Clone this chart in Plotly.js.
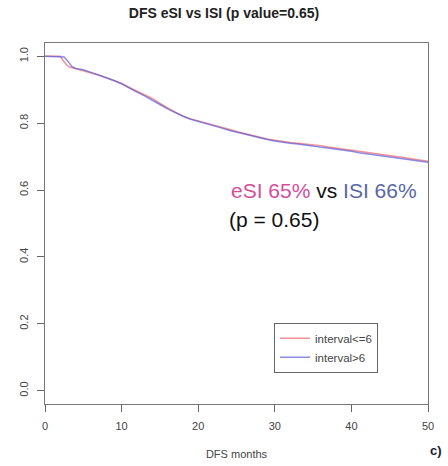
<!DOCTYPE html>
<html>
<head>
<meta charset="utf-8">
<script src="https://cdn.plot.ly/plotly-3.0.1.min.js"></script>
<style>html,body{margin:0;padding:0;background:#fff;}#chart{width:448px;height:466px;}</style>
</head>
<body>
<div id="chart"></div>
<script>
// Months and survival estimates
const monthsLow = [0, 2, 2.3, 2.8, 3.2, 4, 5, 6, 7, 8, 9, 10, 11, 12, 13, 14, 15, 16, 17, 18, 19, 20, 21, 22, 23, 24, 25, 26, 27, 28, 29, 30, 31, 32, 33, 34, 35, 36, 37, 38, 39, 40, 41, 42, 43, 44, 45, 46, 47, 48, 49, 50];
const survLow = [1.0, 1.0, 0.99, 0.975, 0.968, 0.963, 0.958, 0.951, 0.944, 0.936, 0.928, 0.919, 0.907, 0.896, 0.886, 0.874, 0.859, 0.845, 0.833, 0.822, 0.813, 0.807, 0.801, 0.796, 0.790, 0.782, 0.775, 0.769, 0.763, 0.758, 0.753, 0.749, 0.745, 0.742, 0.740, 0.738, 0.736, 0.733, 0.729, 0.726, 0.723, 0.719, 0.715, 0.712, 0.709, 0.706, 0.703, 0.700, 0.697, 0.693, 0.690, 0.686];

const monthsHigh = [0, 2, 2.5, 3, 3.5, 4, 5, 6, 7, 8, 9, 10, 11, 12, 13, 14, 15, 16, 17, 18, 19, 20, 21, 22, 23, 24, 25, 26, 27, 28, 29, 30, 31, 32, 33, 34, 35, 36, 37, 38, 39, 40, 41, 42, 43, 44, 45, 46, 47, 48, 49, 50];
const survHigh = [1.0, 1.0, 0.998, 0.985, 0.970, 0.964, 0.960, 0.952, 0.944, 0.937, 0.928, 0.918, 0.905, 0.893, 0.882, 0.870, 0.856, 0.843, 0.831, 0.821, 0.812, 0.806, 0.800, 0.793, 0.786, 0.779, 0.773, 0.768, 0.762, 0.756, 0.751, 0.747, 0.743, 0.740, 0.738, 0.735, 0.733, 0.729, 0.725, 0.722, 0.719, 0.716, 0.712, 0.709, 0.706, 0.703, 0.700, 0.696, 0.692, 0.689, 0.686, 0.683];

const seriesNames = ['interval<=6', 'interval>6'];
const xTicks = [0, 10, 20, 30, 40, 50];
const yTicks = [0.0, 0.2, 0.4, 0.6, 0.8, 1.0];
const yTickLabels = ['0.0', '0.2', '0.4', '0.6', '0.8', '1.0'];

const traces = [
  {x: monthsLow, y: survLow, name: seriesNames[0], mode: 'lines', type: 'scatter',
   line: {color: 'rgba(238,100,100,0.7)', width: 1.5}},
  {x: monthsHigh, y: survHigh, name: seriesNames[1], mode: 'lines', type: 'scatter',
   line: {color: 'rgba(90,90,225,0.7)', width: 1.5}}
];

const layout = {
  width: 448, height: 466,
  margin: {l: 45, r: 20, t: 43, b: 62},
  paper_bgcolor: '#fff', plot_bgcolor: '#fff',
  font: {family: 'Liberation Sans, Arial, sans-serif', color: '#333'},
  title: {text: '<b>DFS eSI vs ISI (p value=0.65)</b>', x: 0.5, xanchor: 'center', y: 0.972, yanchor: 'middle',
          font: {size: 14, color: '#222', family: 'Liberation Sans, Arial, sans-serif'}},
  xaxis: {range: [0, 50], tickvals: xTicks, ticks: 'outside', ticklen: 7, tickcolor: '#666',
          showline: true, mirror: true, linecolor: '#777', linewidth: 1.2, showgrid: false, zeroline: false,
          tickfont: {size: 11, color: '#444'}, ticklabelstandoff: 5,
          title: {text: 'DFS months', font: {size: 11, color: '#444'}, standoff: 18}},
  yaxis: {range: [-0.04, 1.04], tickvals: yTicks, ticktext: yTickLabels, ticks: 'outside', ticklen: 7, tickcolor: '#666',
          tickangle: -90, showline: true, mirror: true, linecolor: '#777', linewidth: 1.2, showgrid: false, zeroline: false,
          tickfont: {size: 11, color: '#444'}, ticklabelstandoff: 4},
  showlegend: true,
  legend: {x: 0.598, y: 0.225, xanchor: 'left', yanchor: 'top', bordercolor: '#666', borderwidth: 1,
           bgcolor: '#fff', font: {size: 11.5, color: '#444'}, tracegroupgap: 0, itemwidth: 30},
  annotations: [
    {xref: 'x', yref: 'y', x: 24.0, y: 0.600, xanchor: 'left', yanchor: 'middle', showarrow: false,
     text: '<span style="color:#d64d9c">eSI 65%</span> vs <span style="color:#5a67a6">ISI 66%</span>',
     font: {size: 21, color: '#111', family: 'Liberation Sans, Arial, sans-serif'}},
    {xref: 'x', yref: 'y', x: 23.8, y: 0.512, xanchor: 'left', yanchor: 'middle', showarrow: false,
     text: '(p = 0.65)', font: {size: 21, color: '#111', family: 'Liberation Sans, Arial, sans-serif'}},
    {xref: 'paper', yref: 'paper', x: 1.0, y: -0.13, xanchor: 'left', yanchor: 'middle', showarrow: false,
     text: '<b>c)</b>', font: {size: 13, color: '#1a1a2e', family: 'Liberation Sans, Arial, sans-serif'}}
  ]
};

Plotly.newPlot('chart', traces, layout, {displayModeBar: false, staticPlot: true});
</script>
</body>
</html>
